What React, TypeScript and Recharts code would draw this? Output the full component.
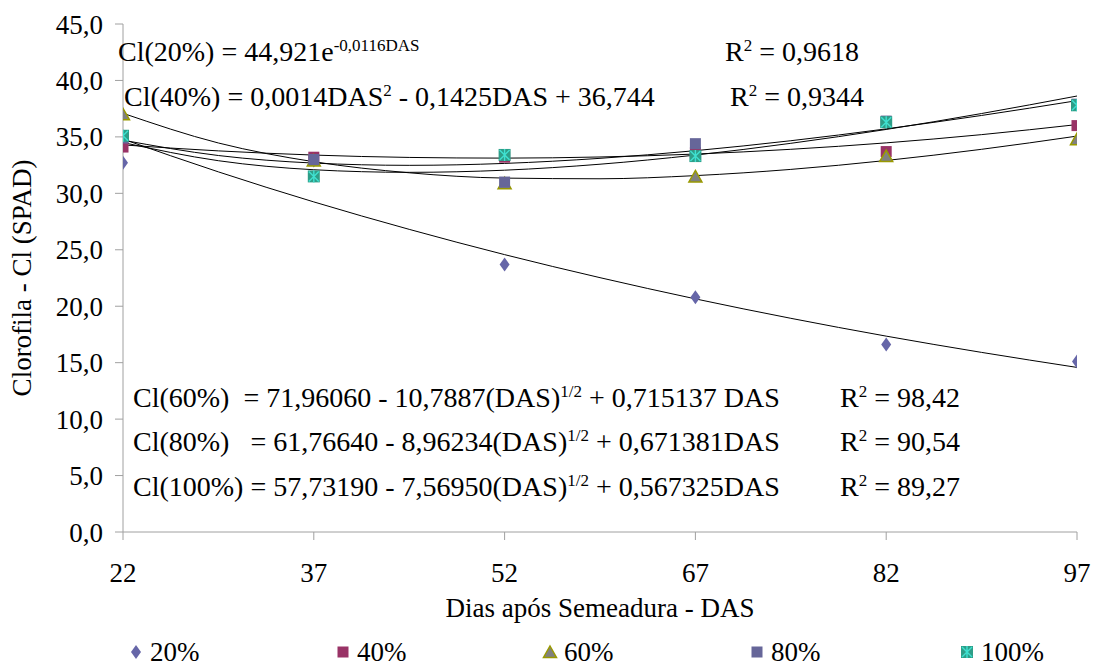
import { ComposedChart, Line, Scatter, XAxis, YAxis } from "recharts";

// observed means (SPAD) per sampling day
const das = [22, 37, 52, 67, 82, 97];
const cl20 = [32.7, 32.9, 23.7, 20.8, 16.6, 15.1];
const cl40 = [34.1, 33.2, 33.2, 33.6, 33.7, 36.0];
const cl60 = [37.0, 32.9, 30.9, 31.5, 33.3, 34.8];
const cl80 = [34.9, 33.0, 31.0, 34.4, 36.4, 37.9];
const cl100 = [35.1, 31.5, 33.4, 33.3, 36.3, 37.8];

// trend curves
const dasFit = [22, 29.5, 37, 44.5, 52, 59.5, 67, 74.5, 82, 89.5, 97];
const fit20 = [34.8, 31.9, 29.24, 26.81, 24.57, 22.53, 20.65, 18.93, 17.35, 15.91, 14.58];
const fit40 = [34.29, 33.76, 33.39, 33.18, 33.12, 33.22, 33.48, 33.9, 34.47, 35.2, 36.09];
const fit60 = [37.09, 34.46, 32.8, 31.82, 31.35, 31.29, 31.57, 32.12, 32.91, 33.9, 35.07];
const fit80 = [34.5, 32.89, 32.09, 31.86, 32.05, 32.58, 33.39, 34.43, 35.66, 37.07, 38.62];
const fit100 = [34.71, 33.35, 32.68, 32.48, 32.65, 33.1, 33.78, 34.66, 35.71, 36.9, 38.21];

const xTicks = [22, 37, 52, 67, 82, 97];
const yTicks = [0, 5, 10, 15, 20, 25, 30, 35, 40, 45];

const pts = (ys: number[]) => das.map((x, i) => ({ x, y: ys[i] }));
const curve = (ys: number[]) => dasFit.map((x, i) => ({ x, y: ys[i] }));

const FONT = "'Liberation Serif', 'Times New Roman', serif";
const AXIS = "#a0a0a0";

const Diamond = ({ cx, cy }: any) => (
  <polygon points={`${cx},${cy - 7} ${cx + 5},${cy} ${cx},${cy + 7} ${cx - 5},${cy}`} fill="#6666a8" />
);
const Crimson = ({ cx, cy }: any) => <rect x={cx - 5.5} y={cy - 5.5} width={11} height={11} fill="#993366" />;
const Tri = ({ cx, cy }: any) => (
  <polygon
    points={`${cx},${cy - 6} ${cx + 6.5},${cy + 5.5} ${cx - 6.5},${cy + 5.5}`}
    fill="#808080"
    stroke="#999900"
    strokeWidth={1.5}
  />
);
const Slate = ({ cx, cy }: any) => <rect x={cx - 5.5} y={cy - 5.5} width={11} height={11} fill="#666699" />;
const Star = ({ cx, cy }: any) => (
  <g>
    <rect x={cx - 6} y={cy - 6} width={12} height={12} fill="#2e9e88" />
    <path
      d={`M${cx - 5},${cy - 5}L${cx + 5},${cy + 5}M${cx + 5},${cy - 5}L${cx - 5},${cy + 5}M${cx},${cy - 6}L${cx},${cy + 6}`}
      stroke="#3fe0d0"
      strokeWidth={1.4}
    />
  </g>
);

const fmt = (v: number) => v.toFixed(1).replace(".", ",");

const txt: React.CSSProperties = {
  position: "absolute",
  fontFamily: FONT,
  fontSize: 28,
  lineHeight: "28px",
  color: "#000",
  whiteSpace: "pre",
};
const sup: React.CSSProperties = { fontSize: 17, verticalAlign: "top", position: "relative", top: -6 };

function LegendItem({ x, label, icon }: { x: number; label: string; icon: React.ReactNode }) {
  return (
    <div style={{ position: "absolute", left: x - 8, top: 640, height: 24, display: "flex", alignItems: "center" }}>
      <svg width={16} height={24}>{icon}</svg>
      <span style={{ fontFamily: FONT, fontSize: 27, lineHeight: "24px", marginLeft: 6 }}>{label}</span>
    </div>
  );
}

export default function App() {
  return (
    <div style={{ position: "absolute", left: 0, top: 0, width: 1094, height: 666, background: "#fff" }}>
      <ComposedChart width={1094} height={666} margin={{ top: 24, right: 17, left: 0, bottom: 0 }}>
        <XAxis
          dataKey="x"
          type="number"
          domain={[22, 97]}
          ticks={xTicks}
          allowDataOverflow
          height={134}
          stroke={AXIS}
          tickSize={8}
          tickMargin={23}
          tick={{ fontSize: 27, fill: "#000", fontFamily: FONT }}
        />
        <YAxis
          type="number"
          domain={[0, 45]}
          ticks={yTicks}
          width={123}
          stroke={AXIS}
          tickSize={8}
          tickMargin={12}
          tickFormatter={fmt}
          tick={{ fontSize: 27, fill: "#000", fontFamily: FONT }}
        />
        <Scatter data={pts(cl20)} dataKey="y" shape={Diamond} isAnimationActive={false} />
        <Scatter data={pts(cl40)} dataKey="y" shape={Crimson} isAnimationActive={false} />
        <Scatter data={pts(cl60)} dataKey="y" shape={Tri} isAnimationActive={false} />
        <Scatter data={pts(cl80)} dataKey="y" shape={Slate} isAnimationActive={false} />
        <Scatter data={pts(cl100)} dataKey="y" shape={Star} isAnimationActive={false} />
        {[fit20, fit40, fit60, fit80, fit100].map((f, i) => (
          <Line
            key={i}
            data={curve(f)}
            dataKey="y"
            type="monotone"
            stroke="#000"
            strokeWidth={1}
            dot={false}
            activeDot={false}
            isAnimationActive={false}
          />
        ))}
      </ComposedChart>

      <div style={{ ...txt, left: 118, top: 38 }}>
        Cl(20%) = 44,921e<span style={sup}>-0,0116DAS</span>
      </div>
      <div style={{ ...txt, left: 725, top: 38 }}>
        R<span style={sup}>2</span> = 0,9618
      </div>
      <div style={{ ...txt, left: 124, top: 83 }}>
        Cl(40%) = 0,0014DAS<span style={sup}>2</span> - 0,1425DAS + 36,744
      </div>
      <div style={{ ...txt, left: 730, top: 83 }}>
        R<span style={sup}>2</span> = 0,9344
      </div>
      <div style={{ ...txt, left: 133, top: 384 }}>
        Cl(60%)  = 71,96060 - 10,7887(DAS)<span style={sup}>1/2</span> + 0,715137 DAS
      </div>
      <div style={{ ...txt, left: 840, top: 384 }}>
        R<span style={sup}>2</span> = 98,42
      </div>
      <div style={{ ...txt, left: 133, top: 428 }}>
        Cl(80%)   = 61,76640 - 8,96234(DAS)<span style={sup}>1/2</span> + 0,671381DAS
      </div>
      <div style={{ ...txt, left: 840, top: 428 }}>
        R<span style={sup}>2</span> = 90,54
      </div>
      <div style={{ ...txt, left: 133, top: 473 }}>
        Cl(100%) = 57,73190 - 7,56950(DAS)<span style={sup}>1/2</span> + 0,567325DAS
      </div>
      <div style={{ ...txt, left: 840, top: 473 }}>
        R<span style={sup}>2</span> = 89,27
      </div>

      <div style={{ ...txt, fontSize: 27, left: 0, width: 1200, textAlign: "center", top: 594 }}>
        Dias após Semeadura - DAS
      </div>
      <div
        style={{
          ...txt,
          fontSize: 27,
          left: 22,
          top: 278,
          transform: "translate(-50%, -50%) rotate(-90deg)",
        }}
      >
        Clorofila - Cl (SPAD)
      </div>

      <LegendItem x={136} label="20%" icon={<Diamond cx={8} cy={12} />} />
      <LegendItem x={343} label="40%" icon={<Crimson cx={8} cy={12} />} />
      <LegendItem x={550} label="60%" icon={<Tri cx={8} cy={12} />} />
      <LegendItem x={757} label="80%" icon={<Slate cx={8} cy={12} />} />
      <LegendItem x={967} label="100%" icon={<Star cx={8} cy={12} />} />
    </div>
  );
}
